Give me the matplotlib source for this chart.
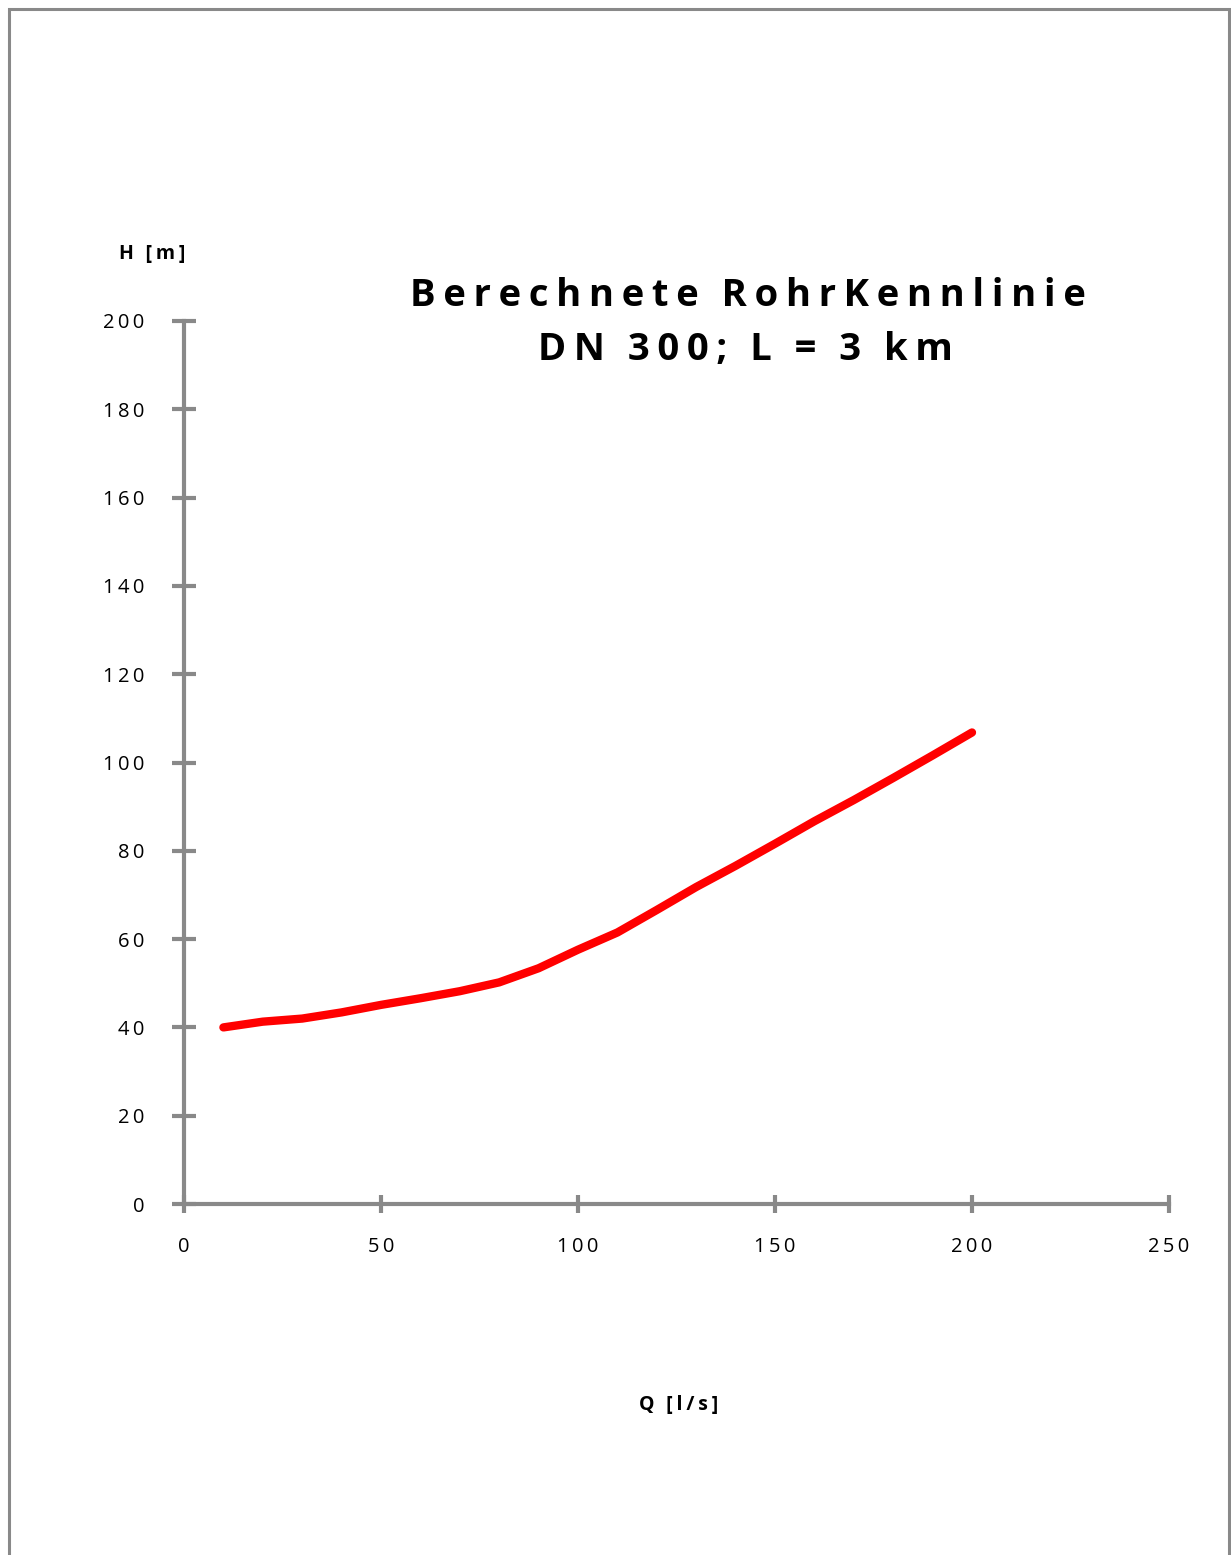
import matplotlib.pyplot as plt
from matplotlib.patches import Rectangle

# data
q_values = [10, 20, 30, 40, 50, 60, 70, 80, 90, 100,
            110, 120, 130, 140, 150, 160, 170, 180, 190, 200]
h_values = [40.0, 41.3, 42.0, 43.4, 45.1, 46.6, 48.2, 50.2, 53.4, 57.6,
            61.5, 66.6, 71.8, 76.6, 81.6, 86.7, 91.5, 96.5, 101.6, 106.8]
x_ticks = [0, 50, 100, 150, 200, 250]
y_ticks = [0, 20, 40, 60, 80, 100, 120, 140, 160, 180, 200]

title_lines = ["Berechnete RohrKennlinie", "DN 300; L = 3 km"]
x_label = "Q [l/s]"
y_label = "H [m]"

FONT = ["Open Sans", "DejaVu Sans"]
GRAY = "#898989"
W, H = 1231, 1555


def spaced(s, sep="\u2009", word_sep="\u2009\u2009\u2009"):
    # fake letter spacing
    return word_sep.join(sep.join(w) for w in s.split(" "))


fig = plt.figure(figsize=(W / 100, H / 100), dpi=100)

# outer frame
fig.patches.append(Rectangle((9 / W, -0.01), (1229 - 9) / W, (H - 9) / H + 0.01,
                             transform=fig.transFigure, fill=False,
                             edgecolor=GRAY, linewidth=2.2))

ax = fig.add_axes([184 / W, (H - 1204) / H, (1169 - 184) / W, (1204 - 321) / H])

ax.plot(q_values, h_values, color="#ff0000", linewidth=6,
        solid_capstyle="round", solid_joinstyle="round")

ax.set_xlim(0, 250)
ax.set_ylim(0, 200)
ax.set_xticks(x_ticks)
ax.set_yticks(y_ticks)
ax.set_xticklabels([spaced(str(t)) for t in x_ticks], fontfamily=FONT, fontsize=14.5)
ax.set_yticklabels([spaced(str(t)) for t in y_ticks], fontfamily=FONT, fontsize=14.5)

for side in ["top", "right"]:
    ax.spines[side].set_visible(False)
for side in ["left", "bottom"]:
    ax.spines[side].set_color(GRAY)
    ax.spines[side].set_linewidth(3)

ax.tick_params(axis="y", direction="inout", length=17, width=3, color=GRAY, pad=20)
ax.tick_params(axis="x", direction="inout", length=13, width=3, color=GRAY, pad=17)

# title
fig.text(748 / W, 1 - 296 / H, spaced(title_lines[0]),
         fontfamily=FONT, fontsize=27.5, fontweight="bold", ha="center", va="center")
fig.text(745 / W, 1 - 350 / H, spaced(title_lines[1]),
         fontfamily=FONT, fontsize=27.5, fontweight="bold", ha="center", va="center")

# axis labels
fig.text(152 / W, 1 - 254 / H, spaced(y_label), fontfamily=FONT, fontsize=14,
         fontweight="bold", ha="center", va="center")
fig.text(679 / W, 1 - 1405 / H, spaced(x_label), fontfamily=FONT, fontsize=14,
         fontweight="bold", ha="center", va="center")

fig.savefig("out.png", dpi=100, facecolor="white")
